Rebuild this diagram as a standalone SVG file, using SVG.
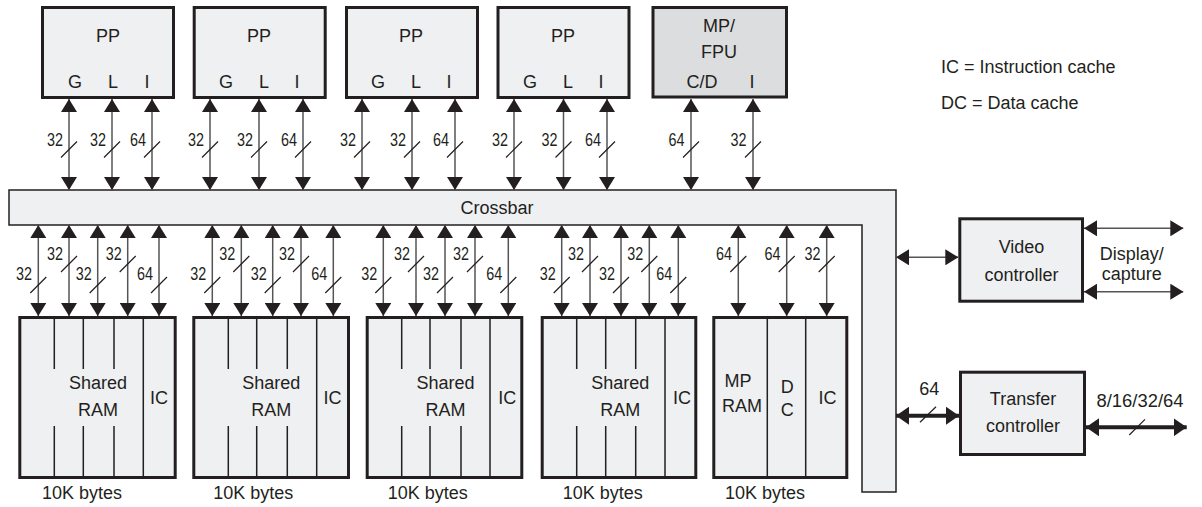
<svg xmlns="http://www.w3.org/2000/svg" width="1202" height="507" viewBox="0 0 1202 507">
<style>
text{font-family:"Liberation Sans",Arial,sans-serif;fill:#231f20}
.t{font-size:18px;text-anchor:middle}
.l{font-size:18px}
.n{font-size:18px;text-anchor:end}
.blk{fill:#eff0f2;stroke:#231f20;stroke-width:3}
.mp{fill:#dcdddf;stroke:#231f20;stroke-width:3}
.div{stroke:#231f20;stroke-width:1.5;fill:none}
.bus{stroke:#555;stroke-width:1.5;fill:none;marker-start:url(#ah);marker-end:url(#ah)}
.tbus{stroke:#231f20;stroke-width:4;fill:none;marker-start:url(#ahb);marker-end:url(#ahb)}
.sl{stroke:#231f20;stroke-width:1.2;fill:none}
</style>
<defs>
<marker id="ah" viewBox="0 0 13 16" refX="13" refY="8" markerWidth="13" markerHeight="16" markerUnits="userSpaceOnUse" orient="auto-start-reverse"><path d="M0,0 L13,8 L0,16 Z" fill="#231f20"/></marker>
<marker id="ahb" viewBox="0 0 13 18" refX="13" refY="9" markerWidth="13" markerHeight="18" markerUnits="userSpaceOnUse" orient="auto-start-reverse"><path d="M0,0 L13,9 L0,18 Z" fill="#231f20"/></marker>
</defs>
<rect width="1202" height="507" fill="#fff"/>

<g id="pp1"><rect class="blk" x="42.5" y="7.5" width="131" height="90"/><text class="t" x="108" y="42">PP</text><text class="t" x="75" y="88">G</text><text class="t" x="113" y="88">L</text><text class="t" x="147" y="88">I</text></g>
<g id="pp2"><rect class="blk" x="194.2" y="7.5" width="131" height="90"/><text class="t" x="259" y="42">PP</text><text class="t" x="226" y="88">G</text><text class="t" x="264" y="88">L</text><text class="t" x="297" y="88">I</text></g>
<g id="pp3"><rect class="blk" x="346.5" y="7.5" width="131" height="90"/><text class="t" x="411" y="42">PP</text><text class="t" x="378" y="88">G</text><text class="t" x="416" y="88">L</text><text class="t" x="449" y="88">I</text></g>
<g id="pp4"><rect class="blk" x="498" y="7.5" width="131" height="90"/><text class="t" x="563" y="42">PP</text><text class="t" x="530" y="88">G</text><text class="t" x="568" y="88">L</text><text class="t" x="601" y="88">I</text></g>
<g id="mpfpu"><rect class="mp" x="653" y="7.5" width="133.5" height="89.5"/><text class="t" x="719" y="32">MP/</text><text class="t" x="719" y="58">FPU</text><text class="t" x="702" y="88">C/D</text><text class="t" x="752" y="88">I</text></g>

<g id="legend"><text class="l" x="941" y="73">IC = Instruction cache</text><text class="l" x="941" y="109">DC = Data cache</text></g>

<g id="crossbar"><path d="M9,190 H896 V492 H862 V225 H9 Z" fill="#eff0f2" stroke="#231f20" stroke-width="1.5"/><text class="t" x="497" y="214">Crossbar</text></g>

<g id="mem1"><rect class="blk" x="19.8" y="317.5" width="155.4" height="160"/>
<path class="div" d="M54.3,317.5V369M54.3,426V477.5M83.3,317.5V369M83.3,426V477.5M114,317.5V369M114,426V477.5M143.3,317.5V477.5"/>
<text class="t" x="98" y="389">Shared</text><text class="t" x="98" y="416">RAM</text><text class="t" x="159" y="404">IC</text><text class="l" x="42" y="499">10K bytes</text></g>
<g id="mem2"><rect class="blk" x="193.8" y="317.5" width="154.7" height="160"/>
<path class="div" d="M228.3,317.5V369M228.3,426V477.5M256.7,317.5V369M256.7,426V477.5M287.3,317.5V369M287.3,426V477.5M316.7,317.5V477.5"/>
<text class="t" x="271.3" y="389">Shared</text><text class="t" x="271.3" y="416">RAM</text><text class="t" x="332.5" y="404">IC</text><text class="l" x="213.3" y="499">10K bytes</text></g>
<g id="mem3"><rect class="blk" x="367.2" y="317.5" width="154.6" height="160"/>
<path class="div" d="M401.7,317.5V369M401.7,426V477.5M430,317.5V369M430,426V477.5M461,317.5V369M461,426V477.5M490,317.5V477.5"/>
<text class="t" x="445.5" y="389">Shared</text><text class="t" x="445.5" y="416">RAM</text><text class="t" x="507.3" y="404">IC</text><text class="l" x="387.7" y="499">10K bytes</text></g>
<g id="mem4"><rect class="blk" x="542.2" y="317.5" width="153.6" height="160"/>
<path class="div" d="M576.7,317.5V369M576.7,426V477.5M605.7,317.5V369M605.7,426V477.5M635.7,317.5V369M635.7,426V477.5M665,317.5V477.5"/>
<text class="t" x="620.3" y="389">Shared</text><text class="t" x="620.3" y="416">RAM</text><text class="t" x="682" y="404">IC</text><text class="l" x="562.7" y="499">10K bytes</text></g>
<g id="mem5"><rect class="blk" x="713.8" y="317.5" width="133" height="160"/>
<path class="div" d="M767.3,317.5V477.5M805.7,317.5V477.5"/>
<text class="t" x="738" y="387">MP</text><text class="t" x="742" y="412">RAM</text><text class="t" x="787.3" y="392.5">D</text><text class="t" x="787.3" y="416">C</text><text class="t" x="827.5" y="404">IC</text><text class="l" x="725" y="499">10K bytes</text></g>

<g id="video"><rect class="blk" x="959.8" y="218.8" width="122.7" height="82.4"/><text class="t" x="1021.5" y="252.7">Video</text><text class="t" x="1021.5" y="280.5">controller</text></g>
<g id="transfer"><rect class="blk" x="960.5" y="372.2" width="124" height="82.3"/><text class="t" x="1023" y="405">Transfer</text><text class="t" x="1023" y="431.5">controller</text></g>

<g id="connectors">
<path class="bus" d="M69,99V190"/><path class="bus" d="M112,99V190"/><path class="bus" d="M152,99V190"/>
<path class="bus" d="M210,99V190"/><path class="bus" d="M259,99V190"/><path class="bus" d="M303,99V190"/>
<path class="bus" d="M362,99V190"/><path class="bus" d="M412,99V190"/><path class="bus" d="M455,99V190"/>
<path class="bus" d="M514,99V190"/><path class="bus" d="M563.5,99V190"/><path class="bus" d="M607,99V190"/>
<path class="bus" d="M691,99V190"/><path class="bus" d="M753,99V190"/>
<path class="sl" d="M61,157.5L77,141.5M104,157.5L120,141.5M144,157.5L160,141.5M202,157.5L218,141.5M251,157.5L267,141.5M295,157.5L311,141.5M354,157.5L370,141.5M404,157.5L420,141.5M447,157.5L463,141.5M506,157.5L522,141.5M555.5,157.5L571.5,141.5M599,157.5L615,141.5M683,157.5L699,141.5M745,157.5L761,141.5"/>
<text class="n" x="63" y="146" textLength="16" lengthAdjust="spacingAndGlyphs">32</text><text class="n" x="106" y="146" textLength="16" lengthAdjust="spacingAndGlyphs">32</text><text class="n" x="146" y="146" textLength="16" lengthAdjust="spacingAndGlyphs">64</text>
<text class="n" x="204" y="146" textLength="16" lengthAdjust="spacingAndGlyphs">32</text><text class="n" x="253" y="146" textLength="16" lengthAdjust="spacingAndGlyphs">32</text><text class="n" x="297" y="146" textLength="16" lengthAdjust="spacingAndGlyphs">64</text>
<text class="n" x="356" y="146" textLength="16" lengthAdjust="spacingAndGlyphs">32</text><text class="n" x="406" y="146" textLength="16" lengthAdjust="spacingAndGlyphs">32</text><text class="n" x="449" y="146" textLength="16" lengthAdjust="spacingAndGlyphs">64</text>
<text class="n" x="508" y="146" textLength="16" lengthAdjust="spacingAndGlyphs">32</text><text class="n" x="557.5" y="146" textLength="16" lengthAdjust="spacingAndGlyphs">32</text><text class="n" x="601" y="146" textLength="16" lengthAdjust="spacingAndGlyphs">64</text>
<text class="n" x="684.5" y="146" textLength="16" lengthAdjust="spacingAndGlyphs">64</text><text class="n" x="746.5" y="146" textLength="16" lengthAdjust="spacingAndGlyphs">32</text>
<path class="bus" d="M38.3,225V316"/><path class="bus" d="M69,225V316"/><path class="bus" d="M97.7,225V316"/><path class="bus" d="M127.7,225V316"/><path class="bus" d="M159,225V316"/>
<path class="bus" d="M212.3,225V316"/><path class="bus" d="M241.3,225V316"/><path class="bus" d="M272.7,225V316"/><path class="bus" d="M301,225V316"/><path class="bus" d="M333.3,225V316"/>
<path class="bus" d="M383.3,225V316"/><path class="bus" d="M416,225V316"/><path class="bus" d="M445,225V316"/><path class="bus" d="M475,225V316"/><path class="bus" d="M508.3,225V316"/>
<path class="bus" d="M561.7,225V316"/><path class="bus" d="M590,225V316"/><path class="bus" d="M621,225V316"/><path class="bus" d="M649.3,225V316"/><path class="bus" d="M678.3,225V316"/>
<path class="bus" d="M738.3,225V316"/><path class="bus" d="M786.7,225V316"/><path class="bus" d="M826.7,225V316"/>
<path class="sl" d="M30.3,293L46.3,277M61,272L77,256M89.7,293L105.7,277M119.7,272L135.7,256M151,293L167,277"/>
<path class="sl" d="M204.3,293L220.3,277M233.3,272L249.3,256M264.7,293L280.7,277M293,272L309,256M325.3,293L341.3,277"/>
<path class="sl" d="M375.3,293L391.3,277M408,272L424,256M437,293L453,277M467,272L483,256M500.3,293L516.3,277"/>
<path class="sl" d="M553.7,293L569.7,277M582,272L598,256M613,293L629,277M641.3,272L657.3,256M670.3,293L686.3,277"/>
<path class="sl" d="M730.3,272L746.3,256M778.7,272L794.7,256M818.7,272L834.7,256"/>
<text class="n" x="32" y="280" textLength="16" lengthAdjust="spacingAndGlyphs">32</text><text class="n" x="63" y="260" textLength="16" lengthAdjust="spacingAndGlyphs">32</text><text class="n" x="91.7" y="280" textLength="16" lengthAdjust="spacingAndGlyphs">32</text><text class="n" x="121.7" y="260" textLength="16" lengthAdjust="spacingAndGlyphs">32</text><text class="n" x="153" y="280" textLength="16" lengthAdjust="spacingAndGlyphs">64</text>
<text class="n" x="206.3" y="280" textLength="16" lengthAdjust="spacingAndGlyphs">32</text><text class="n" x="235.3" y="260" textLength="16" lengthAdjust="spacingAndGlyphs">32</text><text class="n" x="266.7" y="280" textLength="16" lengthAdjust="spacingAndGlyphs">32</text><text class="n" x="295" y="260" textLength="16" lengthAdjust="spacingAndGlyphs">32</text><text class="n" x="327.3" y="280" textLength="16" lengthAdjust="spacingAndGlyphs">64</text>
<text class="n" x="377.3" y="280" textLength="16" lengthAdjust="spacingAndGlyphs">32</text><text class="n" x="410" y="260" textLength="16" lengthAdjust="spacingAndGlyphs">32</text><text class="n" x="439" y="280" textLength="16" lengthAdjust="spacingAndGlyphs">32</text><text class="n" x="469" y="260" textLength="16" lengthAdjust="spacingAndGlyphs">32</text><text class="n" x="502.3" y="280" textLength="16" lengthAdjust="spacingAndGlyphs">64</text>
<text class="n" x="555.7" y="280" textLength="16" lengthAdjust="spacingAndGlyphs">32</text><text class="n" x="584" y="260" textLength="16" lengthAdjust="spacingAndGlyphs">32</text><text class="n" x="615" y="280" textLength="16" lengthAdjust="spacingAndGlyphs">32</text><text class="n" x="643.3" y="260" textLength="16" lengthAdjust="spacingAndGlyphs">32</text><text class="n" x="672.3" y="280" textLength="16" lengthAdjust="spacingAndGlyphs">64</text>
<text class="n" x="732" y="260" textLength="16" lengthAdjust="spacingAndGlyphs">64</text><text class="n" x="780.5" y="260" textLength="16" lengthAdjust="spacingAndGlyphs">64</text><text class="n" x="820.5" y="260" textLength="16" lengthAdjust="spacingAndGlyphs">32</text>
<path class="bus" d="M896,257.3H958.3"/>
<path class="bus" d="M1084,228.3H1183.3"/>
<path class="bus" d="M1084,291.7H1183.3"/>
<text class="t" x="1131.7" y="259.5">Display/</text><text class="t" x="1131.7" y="279.5">capture</text>
<path class="tbus" d="M896,415.7H959"/>
<path class="sl" d="M920,422.3L936,406.7"/>
<text class="t" x="929.3" y="395">64</text>
<path class="tbus" d="M1086,427.3H1186.7"/>
<path class="sl" d="M1129.3,435L1145,419.3"/>
<text class="t" x="1140" y="406.7" textLength="87" lengthAdjust="spacingAndGlyphs">8/16/32/64</text>
</g>
</svg>
